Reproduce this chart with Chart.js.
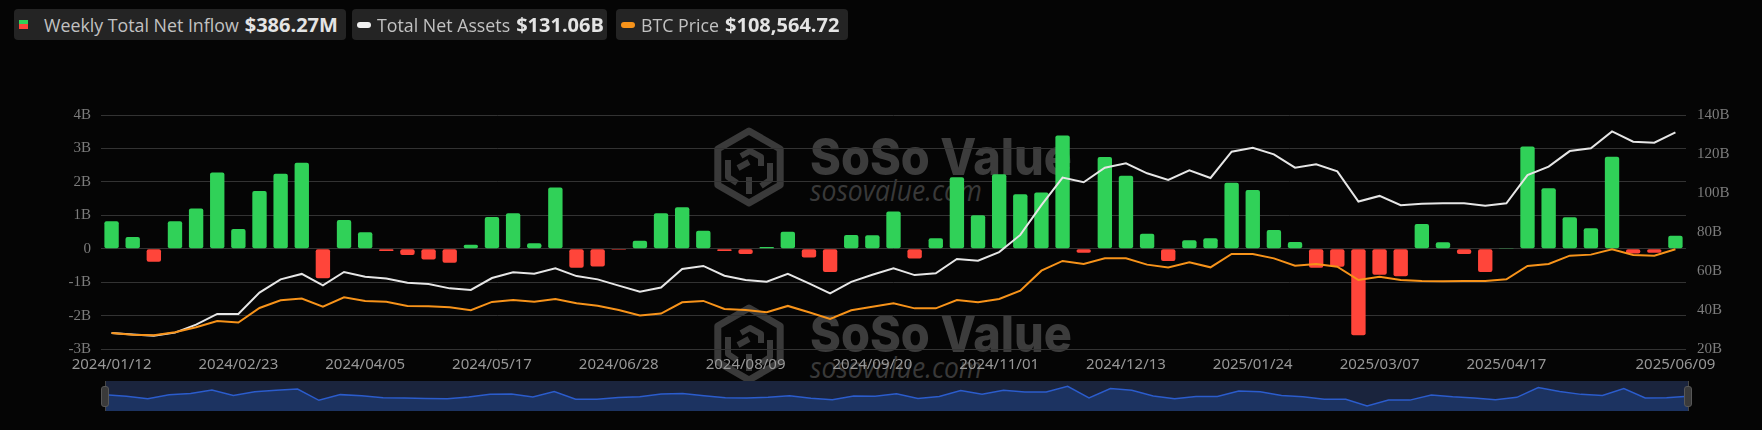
<!DOCTYPE html>
<html>
<head>
<meta charset="utf-8">
<script src="https://cdn.jsdelivr.net/npm/chart.js@4.4.1/dist/chart.umd.min.js"></script>
<style>
html, body { margin: 0; padding: 0; background: #050505; width: 1762px; height: 430px; overflow: hidden; font-family: "Open Sans", sans-serif; }
#wm, #main { position: absolute; left: 0; top: 0; }
.leg { position: absolute; top: 9px; height: 31px; background: #242424; border-radius: 4px; display: flex; align-items: center; color: #c2c2c2; font-size: 17.8px; white-space: nowrap; }
.leg b { color: #e4e4e4; font-size: 20px; font-weight: 700; margin-left: 6px; }
.sq { width: 9px; height: 9px; margin-left: 5px; margin-right: 16px; background: linear-gradient(#30d158 50%, #ff453a 50%); }
.pill { width: 14px; height: 6px; border-radius: 3px; margin-left: 5px; margin-right: 6px; }
#sliderBox { position: absolute; left: 105px; top: 381px; width: 1583px; height: 30px; background: #1a243d; }
.hline { position: absolute; top: 381px; width: 1px; height: 30px; background: #464646; }
.handle { position: absolute; top: 386px; width: 6px; height: 19px; background: #3a3a3a; border: 1px solid #575757; border-radius: 3px; }
</style>
</head>
<body>
<svg id="wm" width="1762" height="430">
  <g id="mark" fill="none" stroke="#3a3a3a" stroke-width="7" stroke-linejoin="round">
    <polygon points="749,131 780.2,149 780.2,185 749,203 717.8,185 717.8,149"/>
    <path stroke-width="6" d="M728 160 L728 177 L737 183 M741 156 L750 151 L761 157 L761 166 M738 168 L749 162 M749 177 L749 194 M770 163 L770 180 L761 186"/>
    <text x="810" y="175" stroke="none" fill="#3c3c3c" font-family="Inter" font-weight="800" font-size="51" textLength="262" lengthAdjust="spacingAndGlyphs">SoSo Value</text>
    <text x="810" y="201" stroke="none" fill="#393939" font-family="Open Sans" font-style="italic" font-size="29" textLength="172" lengthAdjust="spacingAndGlyphs">sosovalue.com</text>
  </g>
  <use href="#mark" y="177"/>
</svg>
<canvas id="main" width="1762" height="378"></canvas>
<div id="sliderBox"><canvas id="slider" width="1583" height="30"></canvas></div>
<div class="hline" style="left:105px"></div>
<div class="hline" style="left:1688px"></div>
<div class="handle" style="left:101px"></div>
<div class="handle" style="left:1684px"></div>

<div class="leg" style="left:14px;width:332px"><span class="sq"></span>Weekly Total Net Inflow<b>$386.27M</b></div>
<div class="leg" style="left:352px;width:255px"><span class="pill" style="background:#f0f0f0"></span>Total Net Assets<b>$131.06B</b></div>
<div class="leg" style="left:616px;width:232px"><span class="pill" style="background:#f7931a"></span>BTC Price<b>$108,564.72</b></div>

<script>
// weekly dates (trading week end)
const dates = [
  '2024/01/12','2024/01/19','2024/01/26','2024/02/02','2024/02/09','2024/02/16','2024/02/23','2024/03/01','2024/03/08','2024/03/15',
  '2024/03/22','2024/03/28','2024/04/05','2024/04/12','2024/04/19','2024/04/26','2024/05/03','2024/05/10','2024/05/17','2024/05/24',
  '2024/05/31','2024/06/07','2024/06/14','2024/06/21','2024/06/28','2024/07/05','2024/07/12','2024/07/19','2024/07/26','2024/08/02',
  '2024/08/09','2024/08/16','2024/08/23','2024/08/30','2024/09/06','2024/09/13','2024/09/20','2024/09/27','2024/10/04','2024/10/11',
  '2024/10/18','2024/10/25','2024/11/01','2024/11/08','2024/11/15','2024/11/22','2024/11/29','2024/12/06','2024/12/13','2024/12/20',
  '2024/12/27','2025/01/03','2025/01/10','2025/01/17','2025/01/24','2025/01/31','2025/02/07','2025/02/14','2025/02/21','2025/02/28',
  '2025/03/07','2025/03/14','2025/03/21','2025/03/28','2025/04/04','2025/04/11','2025/04/17','2025/04/25','2025/05/02','2025/05/09',
  '2025/05/16','2025/05/23','2025/05/30','2025/06/06','2025/06/09'
];

// weekly total net inflow, billions USD
const netInflow = [
  0.82, 0.35, -0.39, 0.82, 1.20, 2.28, 0.59, 1.73, 2.24, 2.57,
  -0.88, 0.86, 0.49, -0.07, -0.19, -0.32, -0.42, 0.12, 0.95, 1.06,
  0.16, 1.83, -0.57, -0.53, -0.03, 0.24, 1.06, 1.24, 0.54, -0.07,
  -0.16, 0.05, 0.51, -0.26, -0.70, 0.41, 0.40, 1.11, -0.29, 0.31,
  2.14, 1.00, 2.23, 1.63, 1.68, 3.39, -0.12, 2.74, 2.18, 0.45,
  -0.37, 0.25, 0.31, 1.97, 1.76, 0.56, 0.20, -0.57, -0.54, -2.59,
  -0.78, -0.82, 0.74, 0.19, -0.16, -0.70, 0.02, 3.06, 1.81, 0.94,
  0.61, 2.75, -0.14, -0.12, 0.386
];

// total net assets, billions USD
const totalNetAssets = [
  28.2, 27.4, 26.8, 28.4, 32.5, 38.0, 38.0, 48.9, 55.7, 58.5,
  52.6, 59.5, 57.1, 56.2, 54.0, 53.3, 51.1, 50.3, 56.4, 59.3,
  58.6, 61.4, 57.4, 55.7, 52.5, 49.4, 51.5, 61.0, 62.6, 57.6,
  55.4, 54.5, 58.6, 53.7, 48.5, 54.4, 58.1, 61.4, 57.9, 58.8,
  66.2, 65.3, 69.7, 78.5, 93.8, 107.9, 105.5, 113.0, 115.2, 110.1,
  106.7, 111.6, 107.7, 121.2, 123.2, 119.8, 113.0, 114.7, 111.1, 95.6,
  98.5, 93.7, 94.5, 94.7, 94.7, 93.5, 94.7, 109.2, 113.5, 121.5,
  122.9, 131.6, 126.3, 125.8, 131.06
];

// BTC price, USD
const btcPrice = [
  43300, 42000, 41500, 43800, 47700, 52700, 51400, 62800, 68800, 70100,
  63800, 71100, 68200, 67700, 64400, 64100, 63300, 61000, 67500, 69000,
  67700, 69800, 66400, 64600, 61200, 57000, 58400, 67200, 68300, 62000,
  61200, 59400, 64400, 59400, 54200, 61000, 63800, 66400, 62500, 62500,
  69000, 67200, 69800, 76300, 91900, 99500, 97100, 101500, 101500, 96600,
  94300, 98400, 94500, 104900, 104900, 101500, 95800, 97100, 95000, 84600,
  87200, 84600, 83900, 83600, 83900, 83900, 85200, 95600, 97100, 103600,
  104400, 108600, 104100, 103600, 108564.72
];

const axisGray = '#7c7c7c';

new Chart(document.getElementById('main'), {
  data: {
    labels: dates,
    datasets: [
      { type: 'line', label: 'BTC Price', data: btcPrice, yAxisID: 'yBtc',
        borderColor: '#f7931a', borderWidth: 2, pointRadius: 0, tension: 0, order: 0 },
      { type: 'line', label: 'Total Net Assets', data: totalNetAssets, yAxisID: 'yAssets',
        borderColor: '#e6e6e6', borderWidth: 2, pointRadius: 0, tension: 0, order: 1 },
      { type: 'bar', label: 'Weekly Total Net Inflow', data: netInflow, yAxisID: 'yFlow',
        backgroundColor: netInflow.map(v => v >= 0 ? '#30d158' : '#ff453a'),
        borderRadius: 2, borderSkipped: false, barPercentage: 0.68, categoryPercentage: 1, order: 2 }
    ]
  },
  options: {
    responsive: false,
    animation: false,
    devicePixelRatio: 1,
    layout: { padding: { top: 115, left: 0, right: 0, bottom: 0 } },
    plugins: { legend: { display: false }, tooltip: { enabled: false } },
    scales: {
      x: {
        offset: true,
        grid: { display: false, drawTicks: false },
        border: { display: false },
        ticks: {
          autoSkip: false, maxRotation: 0, padding: 7, color: '#979797',
          font: { family: 'Noto Sans', size: 15 },
          callback: (v, i) => ((i % 6 === 0 && i <= 66) || i === dates.length - 1) ? dates[i] : ''
        },
        afterFit: s => { s.height = 29; }
      },
      yFlow: {
        position: 'left', min: -3, max: 4,
        grid: { color: '#333333', drawTicks: false },
        border: { display: false },
        ticks: { stepSize: 1, padding: 10, color: axisGray, font: { family: 'Liberation Serif', size: 15 },
          callback: v => v === 0 ? '0' : v + 'B' },
        afterFit: s => { s.width = 101; }
      },
      yAssets: {
        position: 'right', min: 20, max: 140,
        grid: { display: false, drawTicks: false },
        border: { display: false },
        ticks: { stepSize: 20, padding: 11, color: axisGray, font: { family: 'Liberation Serif', size: 15 },
          callback: v => v + 'B' },
        afterFit: s => { s.width = 76; }
      },
      yBtc: { display: false, min: 30800, max: 213300 }
    }
  }
});

// data zoom overview strip
new Chart(document.getElementById('slider'), {
  type: 'line',
  data: {
    labels: dates,
    datasets: [{ data: netInflow, borderColor: '#2b5ccc', borderWidth: 1.5, pointRadius: 0,
      tension: 0, fill: 'start', backgroundColor: '#1c3361' }]
  },
  options: {
    responsive: false, animation: false, devicePixelRatio: 1,
    layout: { padding: 0 },
    plugins: { legend: { display: false }, tooltip: { enabled: false } },
    scales: { x: { display: false }, y: { display: false, min: -4.16, max: 5.04 } }
  }
});
</script>
</body>
</html>
